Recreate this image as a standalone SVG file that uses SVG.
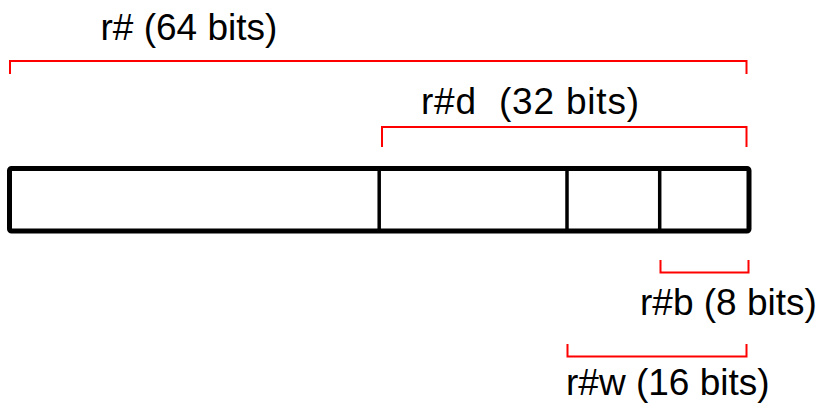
<svg xmlns="http://www.w3.org/2000/svg" width="819" height="408" viewBox="0 0 819 408">
  <style>
    .label { font-family: "Liberation Sans", Arial, sans-serif; font-size: 37px; fill: #000; }
    .bracket { fill: none; stroke: #ff0000; stroke-width: 2; }
    .box { fill: #fff; stroke: #000; stroke-width: 5; stroke-linejoin: round; }
    .div { stroke: #000; stroke-width: 3.5; }
  </style>
  <rect width="819" height="408" fill="#fff"/>

  <!-- register bar -->
  <g id="register">
    <rect class="box" x="9.5" y="168.5" width="739.5" height="62.5" rx="2"/>
    <line class="div" x1="379.2" y1="168.5" x2="379.2" y2="231"/>
    <line class="div" x1="567" y1="168.5" x2="567" y2="231"/>
    <line class="div" x1="659.7" y1="168.5" x2="659.7" y2="231"/>
  </g>

  <!-- span brackets -->
  <g id="connectors">
    <polyline class="bracket" points="10,74 10,61 746.5,61 746.5,74"/>
    <polyline class="bracket" points="382,147 382,127 746.5,127 746.5,147"/>
    <polyline class="bracket" points="660.5,260 660.5,272.5 748.5,272.5 748.5,260"/>
    <polyline class="bracket" points="567.5,344 567.5,356.5 746.5,356.5 746.5,344"/>
  </g>

  <g id="r64">
    <text class="label" x="100.5" y="40">r# (64 bits)</text>
  </g>
  <g id="r32">
    <text class="label" x="421" y="114" textLength="218" lengthAdjust="spacing" xml:space="preserve">r#d  (32 bits)</text>
  </g>
  <g id="r8">
    <text class="label" x="640" y="315">r#b (8 bits)</text>
  </g>
  <g id="r16">
    <text class="label" x="566" y="395">r#w (16 bits)</text>
  </g>
</svg>
